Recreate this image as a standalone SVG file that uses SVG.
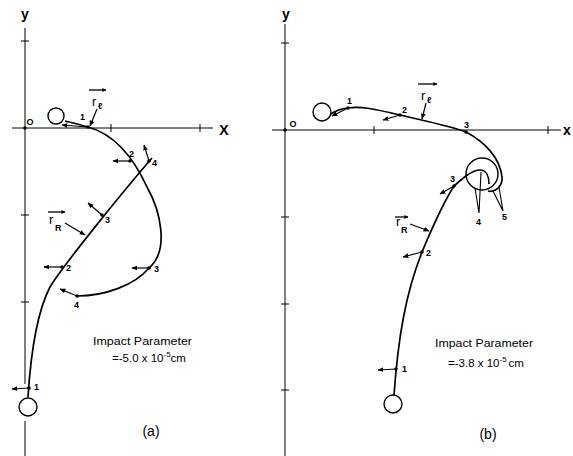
<svg xmlns="http://www.w3.org/2000/svg" width="573" height="456" viewBox="0 0 573 456">
<defs>
<marker id="ah" viewBox="0 0 10 10" refX="9" refY="5" markerWidth="6" markerHeight="6" orient="auto" markerUnits="userSpaceOnUse">
<path d="M0,1 L10,5 L0,9 Z" fill="#000"/>
</marker>
<marker id="ahs" viewBox="0 0 10 10" refX="9" refY="5" markerWidth="5" markerHeight="4" orient="auto" markerUnits="userSpaceOnUse">
<path d="M0,0 L10,5 L0,10 Z" fill="#000"/>
</marker>
</defs>
<style>
.ax{stroke:#000;stroke-width:1;fill:none}
.tr{stroke:#000;stroke-width:1.7;fill:none}
.vec{stroke:#000;stroke-width:1.2;fill:none;marker-end:url(#ah)}
.ov{stroke:#000;stroke-width:1.3;fill:none;marker-end:url(#ahs)}
.ptr{stroke:#000;stroke-width:1.1;fill:none}
.body{stroke:#000;stroke-width:1.4;fill:#fff}
.dot{fill:#000}
.n{font-family:"Liberation Sans",Arial,sans-serif;font-size:9px;font-weight:bold;fill:#000}
.lab{font-family:"Liberation Sans",Arial,sans-serif;font-size:14px;font-weight:bold;fill:#000}
.sym{font-family:"Liberation Sans",Arial,sans-serif;font-size:13px;fill:#000}
.sub{font-family:"Liberation Sans",Arial,sans-serif;font-size:9px;font-weight:bold;fill:#000}
.cap{font-family:"Liberation Sans",Arial,sans-serif;font-size:11.5px;fill:#000}
.pan{font-family:"Liberation Sans",Arial,sans-serif;font-size:14px;fill:#000}
</style>

<!-- Panel (a) -->
<g id="axes-a">
<line class="ax" x1="25" y1="28" x2="25" y2="384"/>
<line class="ax" x1="25" y1="421" x2="25" y2="456"/>
<line class="ax" x1="12" y1="128" x2="213" y2="128"/>
<line class="ax" x1="21" y1="41" x2="29" y2="41"/>
<line class="ax" x1="21" y1="215" x2="29" y2="215"/>
<line class="ax" x1="21" y1="302" x2="29" y2="302"/>
<line class="ax" x1="111" y1="124" x2="111" y2="132"/>
<line class="ax" x1="200" y1="124" x2="200" y2="132"/>
<circle class="dot" cx="25" cy="128" r="1.8"/>
<text class="lab" x="25" y="19" text-anchor="middle">y</text>
<text class="lab" x="224" y="135" text-anchor="middle">X</text>
<text class="n" x="30" y="125" text-anchor="middle" font-size="10px">O</text>
</g>

<g id="connectors-a">
<path class="tr" d="M28,397 C31,350 38,310 50,287 C62,267 120,195 152,158"/>
<path class="tr" d="M65,121 Q78,124 88,127 C110,133 130,150 147,187 C160,210 170,250 149,268 C135,285 105,296 77,296"/>
<line class="vec" x1="29" y1="388" x2="12" y2="389"/>
<line class="vec" x1="62" y1="267" x2="44" y2="267"/>
<line class="vec" x1="102" y1="215" x2="88" y2="203"/>
<line class="vec" x1="149" y1="161" x2="144" y2="145"/>
<line class="vec" x1="88" y1="127" x2="62" y2="125"/>
<line class="vec" x1="130" y1="161" x2="113" y2="161"/>
<line class="vec" x1="149" y1="268" x2="132" y2="268"/>
<line class="vec" x1="77" y1="296" x2="60" y2="289"/>
<line class="vec" x1="65" y1="223" x2="85" y2="235"/>
<line class="vec" x1="97" y1="109" x2="90" y2="126"/>
</g>

<g id="rR-a">
<circle class="body" cx="28" cy="407" r="9"/>
<circle class="dot" cx="29" cy="388" r="1.8"/>
<circle class="dot" cx="62" cy="267" r="1.8"/>
<circle class="dot" cx="102" cy="215" r="1.8"/>
<circle class="dot" cx="149" cy="161" r="1.8"/>
<text class="n" x="34" y="390">1</text>
<text class="n" x="66" y="271">2</text>
<text class="n" x="105" y="223">3</text>
<text class="n" x="152" y="166">4</text>
<line class="ov" x1="48" y1="212" x2="65" y2="212"/>
<text class="sym" x="49" y="224">r</text>
<text class="sub" x="55" y="231" font-size="11px" font-weight="normal">R</text>
</g>

<g id="rl-a">
<circle class="body" cx="56" cy="116" r="8"/>
<circle class="dot" cx="88" cy="127" r="1.8"/>
<circle class="dot" cx="130" cy="161" r="1.8"/>
<circle class="dot" cx="149" cy="268" r="1.8"/>
<circle class="dot" cx="77" cy="296" r="1.8"/>
<text class="n" x="80" y="120">1</text>
<text class="n" x="129" y="157">2</text>
<text class="n" x="154" y="272">3</text>
<text class="n" x="74" y="308">4</text>
<line class="ov" x1="89" y1="90" x2="106" y2="90"/>
<text class="sym" x="92" y="106">r</text>
<text class="sub" x="98" y="109">ℓ</text>
</g>

<g id="caption-a">
<text class="cap" x="93" y="345" textLength="99" lengthAdjust="spacingAndGlyphs">Impact Parameter</text>
<text class="cap" x="112" y="362">=-5.0 x 10<tspan font-size="8px" dy="-5">-5</tspan><tspan dy="5">cm</tspan></text>
<text class="pan" x="151" y="436" text-anchor="middle">(a)</text>
</g>

<!-- Panel (b) -->
<g id="axes-b">
<line class="ax" x1="285" y1="24" x2="285" y2="456"/>
<line class="ax" x1="272" y1="130" x2="561" y2="130"/>
<line class="ax" x1="281" y1="43" x2="289" y2="43"/>
<line class="ax" x1="281" y1="217" x2="289" y2="217"/>
<line class="ax" x1="281" y1="304" x2="289" y2="304"/>
<line class="ax" x1="281" y1="390" x2="289" y2="390"/>
<line class="ax" x1="374" y1="126" x2="374" y2="134"/>
<line class="ax" x1="548" y1="126" x2="548" y2="134"/>
<circle class="dot" cx="285" cy="130" r="1.8"/>
<text class="lab" x="286" y="19" text-anchor="middle">y</text>
<text class="lab" x="563" y="135" font-size="13px">x</text>
<text class="n" x="293" y="127" text-anchor="middle" font-size="10px">O</text>
</g>

<g id="connectors-b">
<path class="tr" d="M331,114 Q338,109 348,108 C360,106 375,109 400,115 C425,121 450,126 466,132 C485,142 500,158 502,177 C503,186 495,193 488,191"/>
<path class="tr" d="M394,395 C398,340 405,295 422,252 C432,228 442,205 454,186 C463,178 472,170 480,170 C486,170 489,176 489,184"/>
<line class="vec" x1="348" y1="108" x2="332" y2="116"/>
<line class="vec" x1="400" y1="115" x2="383" y2="120"/>
<line class="vec" x1="426" y1="103" x2="422" y2="119"/>
<line class="vec" x1="396" y1="369" x2="378" y2="370"/>
<line class="vec" x1="422" y1="252" x2="403" y2="257"/>
<line class="vec" x1="454" y1="186" x2="440" y2="194"/>
<line class="vec" x1="410" y1="224" x2="429" y2="231"/>
<polyline class="ptr" points="475,188 479,213 481,172"/>
<polyline class="ptr" points="493,191 503,211 499,187"/>
</g>

<g id="rR-b">
<circle class="body" cx="393" cy="404" r="9"/>
<circle class="dot" cx="396" cy="369" r="1.8"/>
<circle class="dot" cx="422" cy="252" r="1.8"/>
<circle class="dot" cx="454" cy="186" r="1.8"/>
<text class="n" x="402" y="372">1</text>
<text class="n" x="426" y="256">2</text>
<text class="n" x="450" y="182">3</text>
<text class="n" x="476" y="225">4</text>
<line class="ov" x1="395" y1="217" x2="408" y2="217"/>
<text class="sym" x="396" y="226">r</text>
<text class="sub" x="401" y="233" font-size="11px" font-weight="normal">R</text>
</g>

<g id="rl-b">
<circle class="body" cx="322" cy="112" r="9"/>
<circle class="dot" cx="348" cy="108" r="1.8"/>
<circle class="dot" cx="400" cy="115" r="1.8"/>
<circle class="dot" cx="466" cy="132" r="1.8"/>
<circle cx="482" cy="174" r="16" fill="none" stroke="#000" stroke-width="1.4"/>
<text class="n" x="347" y="104">1</text>
<text class="n" x="402" y="113">2</text>
<text class="n" x="464" y="128">3</text>
<text class="n" x="502" y="220">5</text>
<line class="ov" x1="418" y1="84" x2="437" y2="84"/>
<text class="sym" x="421" y="100">r</text>
<text class="sub" x="427" y="103">ℓ</text>
</g>

<g id="caption-b">
<text class="cap" x="435" y="347" textLength="98" lengthAdjust="spacingAndGlyphs">Impact Parameter</text>
<text class="cap" x="448" y="367">=-3.8 x 10<tspan font-size="8px" dy="-5">-5</tspan><tspan dx="2" dy="5">cm</tspan></text>
<text class="pan" x="488" y="439" text-anchor="middle">(b)</text>
</g>
</svg>
